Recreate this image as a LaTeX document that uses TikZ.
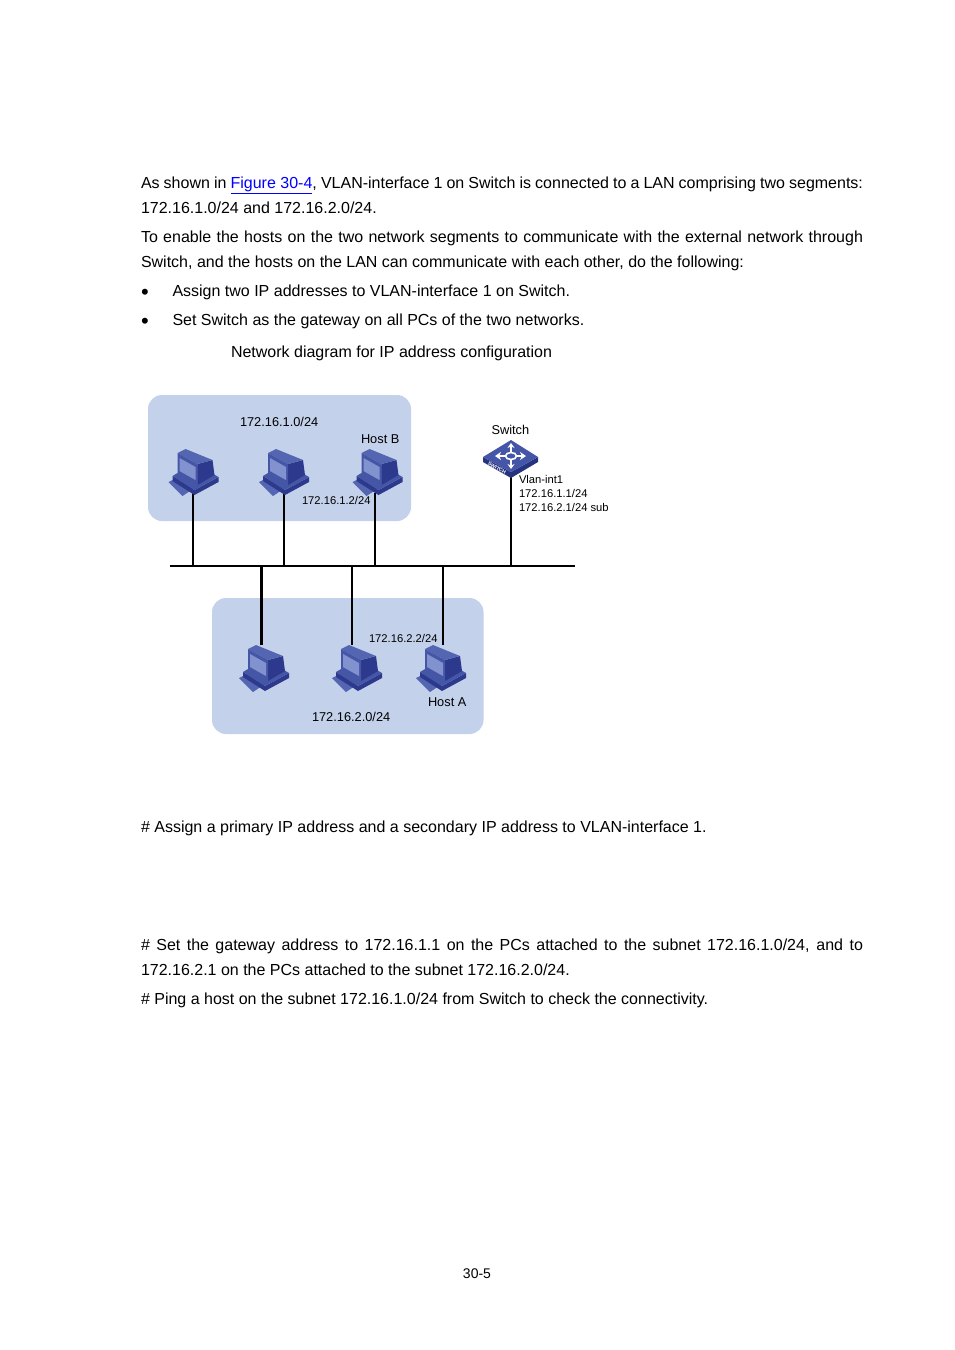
\documentclass[tikz,border=0pt]{standalone}
\usepackage{fontspec}
\setmainfont{Liberation Sans}
\usetikzlibrary{arrows.meta}
\definecolor{lanfill}{HTML}{C3D1EA}
\definecolor{pcbody}{HTML}{4656A6}
\definecolor{pclight}{HTML}{5465B2}
\definecolor{pcdark}{HTML}{2C398C}
\definecolor{pcscreen}{HTML}{8292CE}
\definecolor{swtop}{HTML}{4556A8}
\definecolor{swside}{HTML}{26337F}
\newcommand{\justline}[1]{\makebox[722pt][s]{#1}}

\begin{document}
\begin{tikzpicture}[
  x=1pt, y=-1pt,
  every node/.style = {inner sep=0pt, outer sep=0pt, anchor=base west},
  body/.style = {font=\fontsize{16}{20}\selectfont},
  dot/.style = {font=\fontsize{22}{22}\selectfont},
  label/.style = {font=\fontsize{12.8}{15}\selectfont},
  smalllabel/.style = {font=\fontsize{11.2}{13}\selectfont},
  lan/.style = {fill=lanfill, rounded corners=14pt},
  wire/.style = {draw=black, line width=2pt},
  pcicon/.pic = {
    % keyboard
    \fill[pclight] (0,33) -- (8,29) -- (26,39) -- (14,47) -- cycle;
    % base
    \fill[pcdark] (4,32) -- (26,46) -- (50,33) -- (50,28) -- (26,41) -- (4,27) -- cycle;
    \fill[pcbody] (4,27) -- (26,14) -- (50,28) -- (26,41) -- cycle;
    % monitor
    \fill[pcdark] (29,15) -- (44,11) -- (46,26) -- (29,36) -- cycle;
    \fill[pclight] (9,4) -- (17,0) -- (44,11) -- (29,15) -- cycle;
    \fill[pcbody] (9,4) -- (29,15) -- (29,36) -- (9,25) -- cycle;
    \fill[pcscreen] (11,9) -- (27,18) -- (27,31) -- (11,22) -- cycle;
  }
]
\useasboundingbox (0,0) rectangle (954,1350);

% text above the figure
\node[body] (introa) at (141,188) {\justline{As shown in \textcolor{blue}{\underline{Figure 30-4}}, VLAN-interface 1 on Switch is connected to a LAN comprising two segments:}};
\node[body] (introb) at (141,213) {172.16.1.0/24 and 172.16.2.0/24.};
\node[body] (introc) at (141,242) {\justline{To enable the hosts on the two network segments to communicate with the external network through}};
\node[body] (introd) at (141,267) {Switch, and the hosts on the LAN can communicate with each other, do the following:};
\node[dot] (bulleta) at (141,299) {\textbullet};
\node[body] (itema) at (172.5,296) {Assign two IP addresses to VLAN-interface 1 on Switch.};
\node[dot] (bulletb) at (141,328) {\textbullet};
\node[body] (itemb) at (172.5,325) {Set Switch as the gateway on all PCs of the two networks.};
\node[body] (caption) at (231,357) {Network diagram for IP address configuration};

% LAN areas
\fill[lan] (148,395) rectangle (411,521);
\fill[lan] (212,598) rectangle (483.5,734);

% bus and attachment points
\coordinate (busl) at (170,566);
\coordinate (busr) at (575,566);
\coordinate (pcone) at (193,493);
\coordinate (pctwo) at (284,493);
\coordinate (hostb) at (375,493);
\coordinate (switch) at (511,476);
\coordinate (pcthree) at (261.5,645);
\coordinate (pcfour) at (352,645);
\coordinate (hosta) at (443,645);

\draw[wire] (busl) -- (busr);
\foreach \n in {pcone,pctwo,hostb,switch,pcfour,hosta}
  \draw[wire] (\n) -- (\n |- busl);
\draw[wire, line width=3pt] (pcthree) -- (pcthree |- busl);

% hosts
\pic at (168.5,449) {pcicon};
\pic at (259,449) {pcicon};
\pic at (352.5,449) {pcicon};
\pic at (239,645) {pcicon};
\pic at (332,645) {pcicon};
\pic at (416,645) {pcicon};

% switch
\fill[swside] (483,457) -- (511,472) -- (538,457) -- (538,462) -- (511,478) -- (483,462) -- cycle;
\fill[swtop] (483,457) -- (511,440) -- (538,457) -- (511,472) -- cycle;
\draw[white, line width=1.6pt, {Stealth[length=6pt,width=8pt]}-{Stealth[length=6pt,width=8pt]}] (495,456) -- (526,456);
\draw[white, line width=1.6pt, {Stealth[length=5pt,width=7pt]}-{Stealth[length=5pt,width=7pt]}] (511,443) -- (511,469);
\filldraw[fill=swtop, draw=white, line width=1.6pt] (511,456) ellipse (5.5 and 3.5);
\node[white, font=\bfseries\fontsize{5}{6}\selectfont, rotate=-29, anchor=center] (swname) at (497,468) {SWITCH};

% labels
\node[label] (lanone) at (240,426) {172.16.1.0/24};
\node[label] (hostbname) at (361,443) {Host B};
\node[smalllabel] (hostbip) at (302,504) {172.16.1.2/24};
\node[label] (switchname) at (491.5,434) {Switch};
\node[smalllabel] (vlan) at (519,483) {Vlan-int1};
\node[smalllabel] (ipone) at (519,497) {172.16.1.1/24};
\node[smalllabel] (iptwo) at (519,511) {172.16.2.1/24 sub};
\node[smalllabel] (hostaip) at (369,642) {172.16.2.2/24};
\node[label] (hostaname) at (428,706) {Host A};
\node[label] (lantwo) at (312,721) {172.16.2.0/24};

% text below the figure
\node[body] (stepa) at (141,832) {\# Assign a primary IP address and a secondary IP address to VLAN-interface 1.};
\node[body] (stepb) at (141,950) {\justline{\# Set the gateway address to 172.16.1.1 on the PCs attached to the subnet 172.16.1.0/24, and to}};
\node[body] (stepc) at (141,975) {172.16.2.1 on the PCs attached to the subnet 172.16.2.0/24.};
\node[body] (stepd) at (141,1004) {\# Ping a host on the subnet 172.16.1.0/24 from Switch to check the connectivity.};
\node[font=\fontsize{14}{16}\selectfont, anchor=base] (pagenum) at (477,1278) {30-5};
\end{tikzpicture}
\end{document}
